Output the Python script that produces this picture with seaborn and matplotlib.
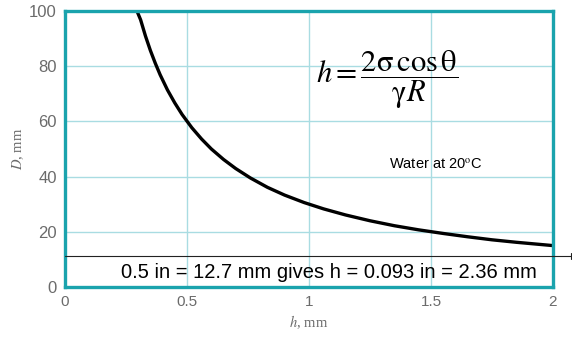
import matplotlib
matplotlib.use("Agg")
import matplotlib.pyplot as plt
import seaborn as sns
import pandas as pd

# Curva D frente a h (agua a 20 C)
h_mm = [0.295, 0.31, 0.33, 0.35, 0.37, 0.39, 0.42, 0.45, 0.48, 0.52, 0.56,
        0.6, 0.65, 0.7, 0.76, 0.83, 0.9, 0.98, 1.06, 1.15, 1.25, 1.35,
        1.45, 1.55, 1.65, 1.75, 1.85, 2.0]
D_mm = [100, 96.8, 90.9, 85.7, 81.1, 76.9, 71.4, 66.7, 62.5, 57.7, 53.6,
        50, 46.2, 42.9, 39.5, 36.1, 33.3, 30.6, 28.3, 26.1, 24, 22.2,
        20.7, 19.4, 18.2, 17.1, 16.2, 15]

x_ticks = [0, 0.5, 1, 1.5, 2]
y_ticks = [0, 20, 40, 60, 80, 100]

linea_D = 11.2  # D = 12.7 mm aprox. en la figura
nota = "0.5 in = 12.7 mm gives h = 0.093 in = 2.36 mm"

df = pd.DataFrame({"h": h_mm, "D": D_mm})

sns.set_style("white")
plt.rcParams["font.family"] = ["Liberation Sans", "DejaVu Sans"]
plt.rcParams["mathtext.fontset"] = "stix"

teal = "#1aa3ad"
grid_c = "#a9dce2"
gris = "#6b6b6b"

fig = plt.figure(figsize=(5.72, 3.39), dpi=100)
ax = fig.add_axes([0.1136, 0.1534, 0.8531, 0.8142])

sns.lineplot(data=df, x="h", y="D", ax=ax, color="black", linewidth=2.4)

ax.set_xlim(0, 2)
ax.set_ylim(0, 100)
ax.set_xticks(x_ticks)
ax.set_xticklabels(["0", "0.5", "1", "1.5", "2"])
ax.set_yticks(y_ticks)
ax.grid(True, color=grid_c, linewidth=1.0)
ax.set_axisbelow(True)
ax.tick_params(axis="y", length=0, labelsize=12, labelcolor=gris, pad=6)
ax.tick_params(axis="x", length=0, labelsize=11, labelcolor=gris, pad=6)
for s in ax.spines.values():
    s.set_color(teal)
    s.set_linewidth(2.4)

ax.set_xlabel(r"$h$, mm", family="Liberation Serif", fontsize=10.5,
              color=gris, labelpad=3)
ax.set_ylabel(r"$D$, mm", family="Liberation Serif", fontsize=10.5,
              color=gris, labelpad=2)

# linea horizontal de referencia, sale fuera del eje por la derecha
ax.plot([0, 2.072], [linea_D, linea_D], color="#222222", linewidth=0.8,
        clip_on=False, zorder=3)
ax.plot([2.072, 2.072], [linea_D - 1.2, linea_D + 1.2], color="#222222",
        linewidth=0.8, clip_on=False, zorder=3)

ax.text(1.082, 5.4, nota, ha="center", va="center", fontsize=14.5,
        color="black")
ax.text(1.32, 75, r"$h = \dfrac{2\mathrm{σ}\,\mathrm{cos}\,\mathrm{θ}}{\mathrm{γ}R}$",
        ha="center", va="center", fontsize=22, color="black")
ax.text(1.52, 44.2, "Water at 20$^{\\rm o}$C", ha="center", va="center",
        fontsize=10.5, color="black")

fig.savefig("out.png", dpi=100)
